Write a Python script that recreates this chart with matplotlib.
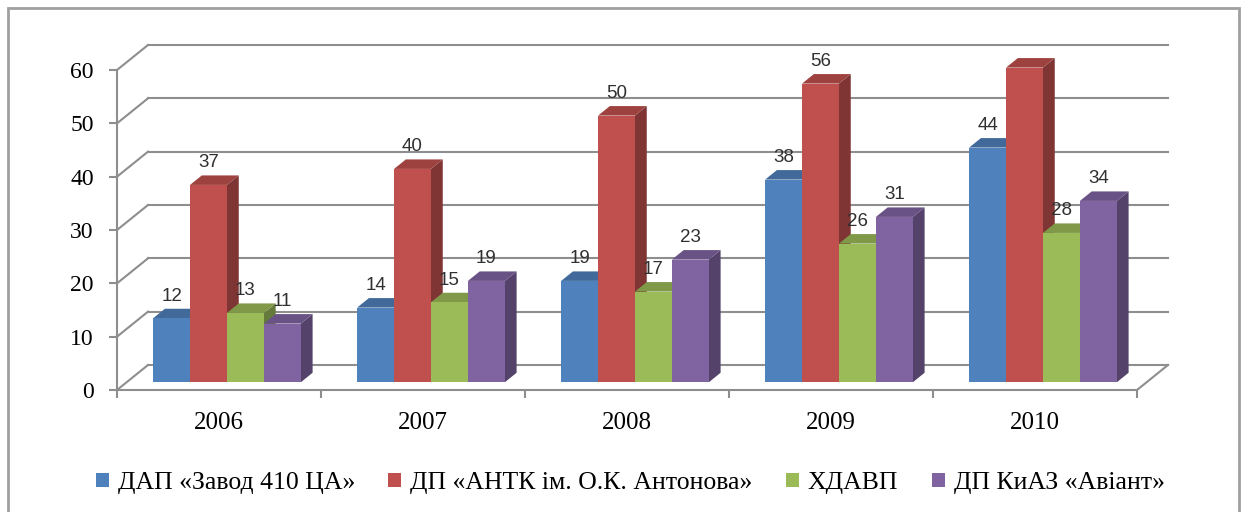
import matplotlib.pyplot as plt
import numpy as np
from matplotlib.patches import Polygon, Patch, Rectangle
from matplotlib.colors import to_rgb

years = ['2006', '2007', '2008', '2009', '2010']
series_names = ['ДАП «Завод 410 ЦА»', 'ДП «АНТК ім. О.К. Антонова»',
                'ХДАВП', 'ДП КиАЗ «Авіант»']
dap = [12, 14, 19, 38, 44]
antk = [37, 40, 50, 56, 59]
hdavp = [13, 15, 17, 26, 28]
kiaz = [11, 19, 23, 31, 34]
colors = ['#4F81BD', '#C0504D', '#9BBB59', '#8064A2']

plt.rcParams['font.family'] = ['Liberation Serif', 'DejaVu Serif']

W, H = 1243, 512
fig = plt.figure(figsize=(W / 100, H / 100), dpi=100)
ax = fig.add_axes([117 / W, 122 / H, 1020 / W, 320 / H])
ax.set_xlim(0, len(years))
ax.set_ylim(0, 60)

# depth of the 3d box in data units
DX = 31 / 204
DY = 25 / (320 / 60)
grid_c = '#8E8E8E'


def shade(c, k):
    return tuple(np.array(to_rgb(c)) * k)


# back wall and left side wall grid
yt = np.arange(0, 61, 10)
for v in yt:
    ax.plot([DX, len(years) + DX], [v + DY, v + DY], color=grid_c, lw=1.5,
            clip_on=False, zorder=1)
    ax.plot([0, DX], [v, v + DY], color=grid_c, lw=1.5, clip_on=False, zorder=1)
# floor right edge
ax.plot([len(years), len(years) + DX], [0, DY], color=grid_c, lw=1.5,
        clip_on=False, zorder=1)

# bars
bw = 0.181
start = 0.13
f0, f1 = 0.31, 0.69
data = [dap, antk, hdavp, kiaz]
x = np.arange(len(years))
for i in range(len(years)):
    for j, vals in enumerate(data):
        v = vals[i]
        xl = x[i] + start + j * bw + f0 * DX
        xr = xl + bw
        b = f0 * DY
        ddx = (f1 - f0) * DX
        ddy = (f1 - f0) * DY
        z = 3 + i * 10 + j
        side = Polygon([(xr, b), (xr, b + v), (xr + ddx, b + v + ddy), (xr + ddx, b + ddy)],
                       closed=True, fc=shade(colors[j], 0.66), ec='none', zorder=z,
                       clip_on=False)
        top = Polygon([(xl, b + v), (xr, b + v), (xr + ddx, b + v + ddy), (xl + ddx, b + v + ddy)],
                      closed=True, fc=shade(colors[j], 0.82), ec='none', zorder=z,
                      clip_on=False)
        ax.add_patch(side)
        ax.add_patch(top)
        ax.bar(xl, v, width=bw, bottom=b, align='edge', color=colors[j],
               zorder=z, clip_on=False)
        ax.annotate(str(v), xy=(xl + bw / 2, b + v), xytext=(0, 15.8),
                    textcoords='offset points', ha='center', va='center',
                    fontsize=13.5, family=['Liberation Sans', 'DejaVu Sans'],
                    color='#303030', zorder=100)

# axes styling
for s in ['top', 'right']:
    ax.spines[s].set_visible(False)
ax.spines['left'].set_color(grid_c)
ax.spines['bottom'].set_color(grid_c)
ax.spines['left'].set_linewidth(1.5)
ax.spines['bottom'].set_linewidth(1.5)
ax.set_yticks(yt)
ax.set_yticklabels([str(v) for v in yt], fontsize=17)
ax.tick_params(axis='y', length=5.8, width=1.5, color=grid_c, pad=11)
ax.set_xticks(np.arange(len(years) + 1))
ax.set_xticklabels([''] * (len(years) + 1))
ax.set_xticks(x + 0.5, minor=True)
ax.set_xticklabels(years, minor=True, fontsize=18)
ax.tick_params(axis='x', which='major', length=5.5, width=1.5, color=grid_c)
ax.tick_params(axis='x', which='minor', length=0, pad=16)
ax.patch.set_visible(False)

handles = [Patch(facecolor=c, edgecolor='none') for c in colors]
fig.legend(handles, series_names, loc='center', bbox_to_anchor=(0.507, 1 - 483 / H),
           ncol=4, frameon=False, fontsize=18.5, handlelength=0.5, handleheight=0.5,
           handletextpad=0.35, columnspacing=1.3)

fig.patches.append(Rectangle((8 / W, -0.05), (1239 - 8) / W, 1 - 8 / H + 0.05,
                             transform=fig.transFigure, fill=False,
                             ec='#A0A0A0', lw=2))

fig.savefig('out.png', dpi=100)
